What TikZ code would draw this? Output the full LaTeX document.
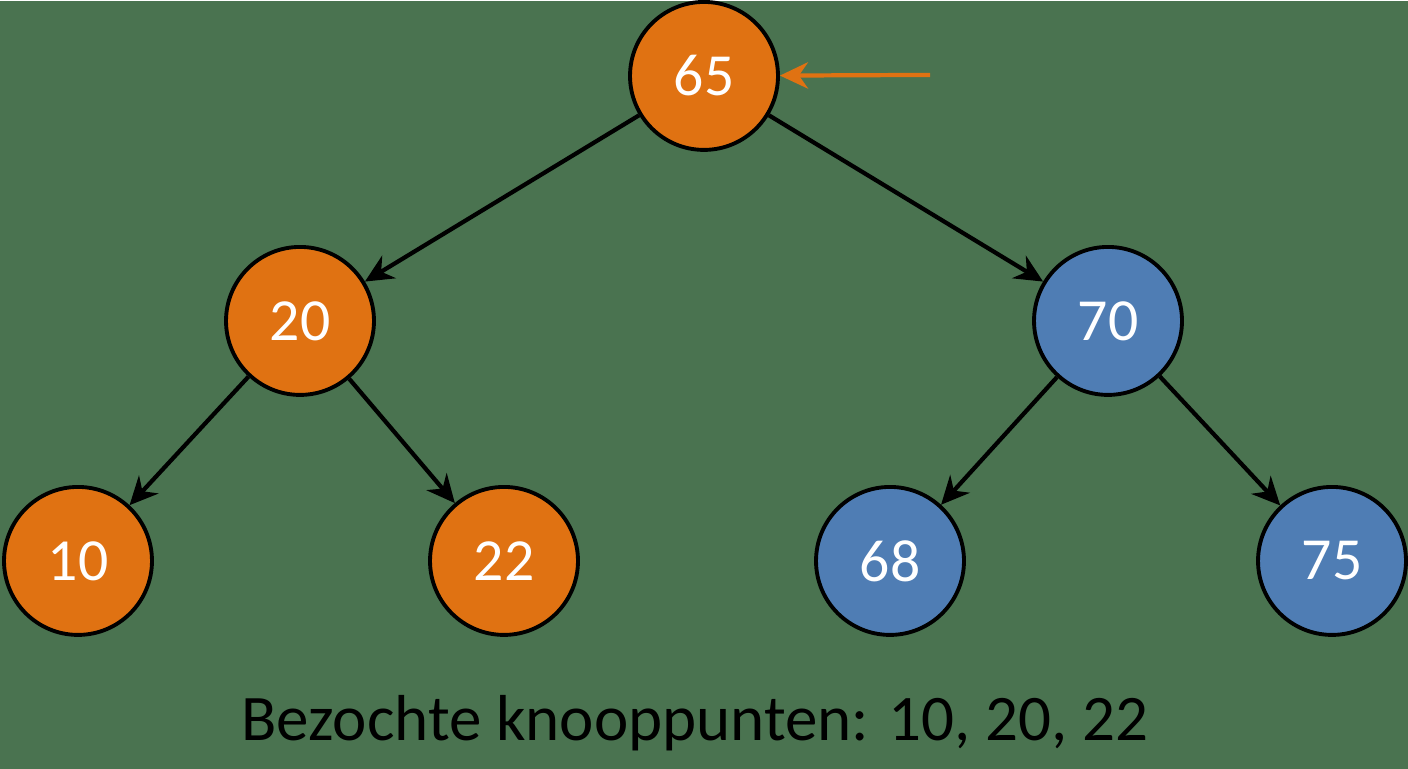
\documentclass[tikz,border=0pt]{standalone}
\usepackage{fontspec}
\setmainfont{Carlito}
\usetikzlibrary{arrows.meta}
\definecolor{bggreen}{HTML}{4A7350}
\definecolor{visited}{HTML}{E07212}
\definecolor{open}{HTML}{4F7DB4}
\tikzset{
	knoop/.style={circle,draw=black,line width=2.2pt,minimum size=2.96cm,text=white,font=\fontsize{34}{34}\selectfont},
	tak/.style={-{Stealth[length=16pt,width=15pt]},line width=2.4pt}
}
\begin{document}
\begin{tikzpicture}[x=0.02cm,y=-0.02cm]
	\fill [bggreen] (0,0) rectangle (1408,768);
	\node [knoop,fill=visited] (K65) at (704,75) {65};
	\node [knoop,fill=visited] (K20) at (300,320) {20};
	\node [knoop,fill=open] (K70) at (1108,320) {70};
	\node [knoop,fill=visited] (K10) at (78,560) {10};
	\node [knoop,fill=visited] (K22) at (504,560) {22};
	\node [knoop,fill=open] (K68) at (890,560) {68};
	\node [knoop,fill=open] (K75) at (1332,560) {75};
	\coordinate (P) at (930,74);
	\node [font=\fontsize{37}{37}\selectfont] (T) at (695,722) {Bezochte knooppunten: 10, 20, 22};

	\path [tak] (K65) edge (K20);
	\path [tak] (K65) edge (K70);
	\path [tak] (K20) edge (K10);
	\path [tak] (K20) edge (K22);
	\path [tak] (K70) edge (K68);
	\path [tak] (K70) edge (K75);
	\draw [tak,visited] (P) -- (K65);
\end{tikzpicture}
\end{document}
